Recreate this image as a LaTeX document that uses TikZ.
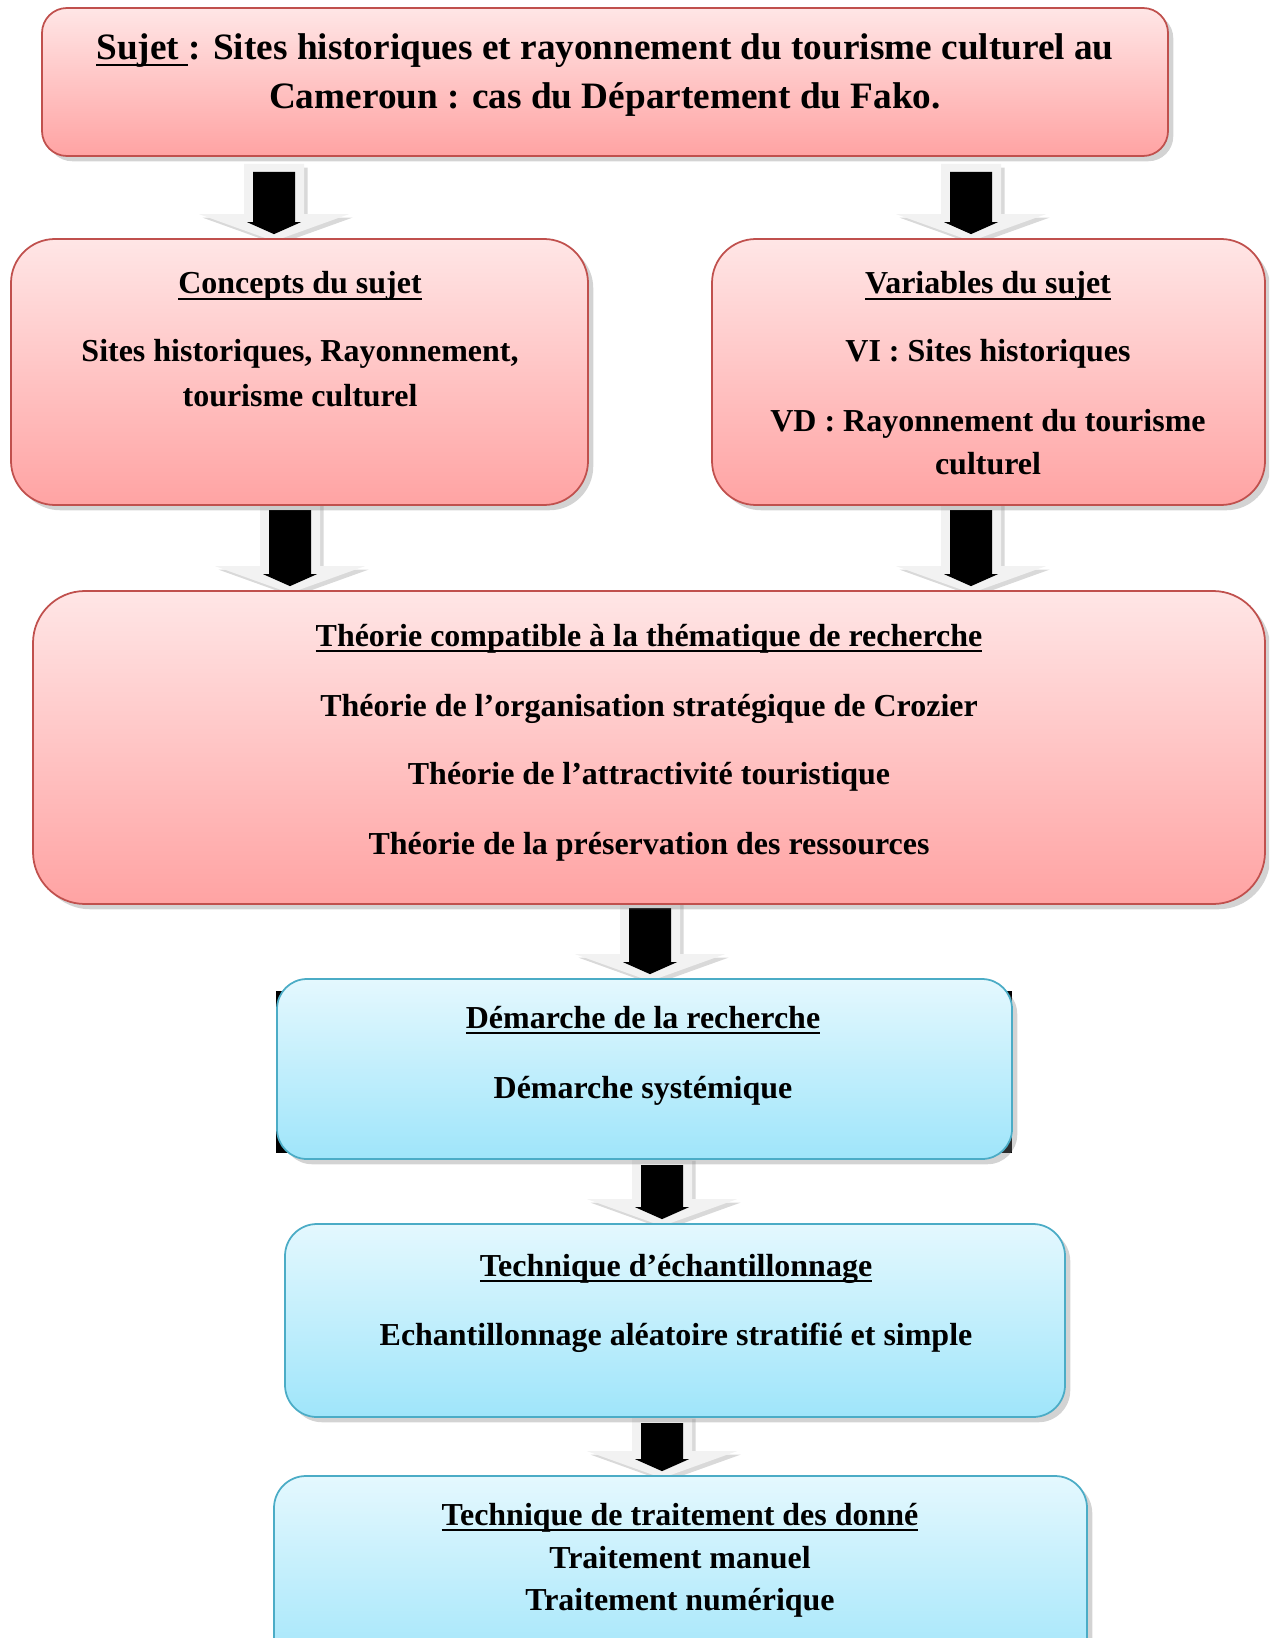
\documentclass[tikz,border=0pt]{standalone}
\usepackage{fontspec}
\setmainfont{Liberation Serif}
\usepackage{xcolor}
\usetikzlibrary{calc, fit, shadows, backgrounds}

\definecolor{redline}{HTML}{C0504D}
\definecolor{redtop}{HTML}{FFE6E6}
\definecolor{redbot}{HTML}{FFA3A3}
\definecolor{blueline}{HTML}{4BACC6}
\definecolor{bluetop}{HTML}{E4F8FE}
\definecolor{bluebot}{HTML}{9FE5FA}
\definecolor{arrgrey}{HTML}{F2F2F2}

% heavier underline for the headings
\newsavebox{\ulbox}
\newcommand{\hul}[1]{\sbox{\ulbox}{#1}\rlap{\vrule height -2.5pt depth 3.6pt width \wd\ulbox}\usebox{\ulbox}}

% block arrow from a top coordinate to a tip coordinate (same x)
\newcommand{\blockarrow}[2]{%
  \fill[arrgrey, drop shadow={opacity=0.3, shadow xshift=2pt, shadow yshift=-2pt}]
    ($(#1)+(-30,0)$) -- ($(#2)+(-30,-27)$) -- ($(#2)+(-75,-27)$) -- (#2)
    -- ($(#2)+(75,-27)$) -- ($(#2)+(30,-27)$) -- ($(#1)+(30,0)$) -- cycle;
  \fill[black]
    ($(#1)+(-21,8)$) -- ($(#2)+(-21,-19)$) -- ($(#2)+(-27,-19)$) -- ($(#2)+(0,-7)$)
    -- ($(#2)+(27,-19)$) -- ($(#2)+(21,-19)$) -- ($(#1)+(21,8)$) -- cycle;
}

\begin{document}
\begin{tikzpicture}[
  x=0.02cm, y=-0.02cm,
  shad/.style={drop shadow={opacity=0.35, shadow xshift=3pt, shadow yshift=-3pt}},
  redbox/.style={draw=redline, line width=1pt, top color=redtop, bottom color=redbot, shad, inner sep=0pt},
  bluebox/.style={draw=blueline, line width=1pt, top color=bluetop, bottom color=bluebot, shad, inner sep=0pt},
  txt/.style={font=\fontsize{18.2}{22}\selectfont\bfseries, anchor=base, inner sep=0pt},
  title/.style={font=\fontsize{21.2}{25}\selectfont\bfseries, anchor=base, inner sep=0pt}
]
  \clip (0,0) rectangle (1269,1638);

  % boxes
  \node[redbox, rounded corners=0.5cm, fit={(42,8) (1168,156)}] (sujet) {};
  \node[redbox, rounded corners=0.88cm, fit={(11,239) (588,505)}] (concepts) {};
  \node[redbox, rounded corners=0.88cm, fit={(712,239) (1265,505)}] (variables) {};
  \node[redbox, rounded corners=1.04cm, fit={(33,591) (1265,904)}] (theorie) {};
  \node[bluebox, rounded corners=0.6cm, fit={(277,979) (1012,1159)}] (demarche) {};
  \node[bluebox, rounded corners=0.64cm, fit={(285,1224) (1065,1417)}] (echant) {};
  \node[bluebox, rounded corners=0.64cm, fit={(274,1476) (1087,1680)}] (traitement) {};

  % texts
  \node[title] (sujet1) at (605,60) {\hul{Sujet~}: Sites historiques et rayonnement du tourisme culturel au};
  \node[title] (sujet2) at (605,109) {Cameroun : cas du Département du Fako.};

  \node[txt] (conc0) at (300,294) {\hul{Concepts du sujet}};
  \node[txt] (conc1) at (300,362) {Sites historiques, Rayonnement,};
  \node[txt] (conc2) at (300,406) {tourisme culturel};

  \node[txt] (var0) at (988,294) {\hul{Variables du sujet}};
  \node[txt] (var1) at (988,362) {VI : Sites historiques};
  \node[txt] (var2) at (988,431) {VD : Rayonnement du tourisme};
  \node[txt] (var3) at (988,474) {culturel};

  \node[txt] (theo0) at (649,646) {\hul{Théorie compatible à la thématique de recherche}};
  \node[txt] (theo1) at (649,716) {Théorie de l’organisation stratégique de Crozier};
  \node[txt] (theo2) at (649,784) {Théorie de l’attractivité touristique};
  \node[txt] (theo3) at (649,854) {Théorie de la préservation des ressources};

  \node[txt] (dem0) at (643,1028) {\hul{Démarche de la recherche}};
  \node[txt] (dem1) at (643,1098) {Démarche systémique};

  \node[txt] (ech0) at (676,1276) {\hul{Technique d’échantillonnage}};
  \node[txt] (ech1) at (676,1345) {Echantillonnage aléatoire stratifié et simple};

  \node[txt] (trt0) at (680,1525) {\hul{Technique de traitement des donné}};
  \node[txt] (trt1) at (680,1568) {Traitement manuel};
  \node[txt] (trt2) at (680,1610) {Traitement numérique};

  % arrows
  \coordinate (a1) at (274,164);
  \coordinate (a2) at (971,164);
  \coordinate (a3) at (290,502);
  \coordinate (a4) at (971,502);
  \coordinate (a5) at (650,900);
  \coordinate (a6) at (662,1157);
  \coordinate (a7) at (662,1415);
  \coordinate (a1tip) at ($(a1 |- concepts.north)+(0,3)$);
  \coordinate (a2tip) at ($(a2 |- variables.north)+(0,3)$);
  \coordinate (a3tip) at ($(a3 |- theorie.north)+(0,3)$);
  \coordinate (a4tip) at ($(a4 |- theorie.north)+(0,3)$);
  \coordinate (a5tip) at ($(a5 |- demarche.north)+(0,3)$);
  \coordinate (a6tip) at ($(a6 |- echant.north)+(0,3)$);
  \coordinate (a7tip) at ($(a7 |- traitement.north)+(0,3)$);

  \begin{scope}[on background layer]
    \fill[black] (276,991) rectangle (1012,1153);
    \blockarrow{a1}{a1tip}
    \blockarrow{a2}{a2tip}
    \blockarrow{a3}{a3tip}
    \blockarrow{a4}{a4tip}
    \blockarrow{a5}{a5tip}
    \blockarrow{a6}{a6tip}
    \blockarrow{a7}{a7tip}
  \end{scope}
\end{tikzpicture}
\end{document}
